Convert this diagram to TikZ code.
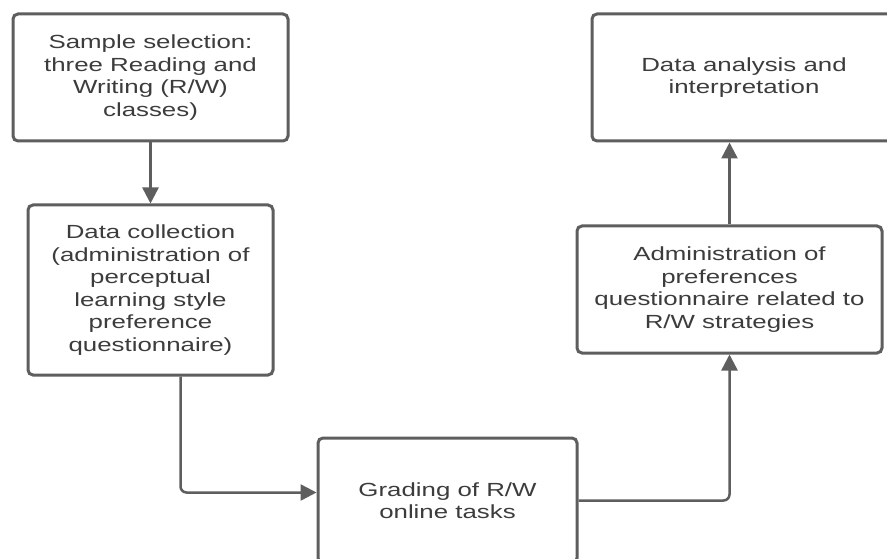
\documentclass[tikz,border=0pt]{standalone}
\usepackage{fontspec}
\setmainfont{Liberation Sans}[FakeStretch=1.36]
\usetikzlibrary{arrows.meta}
\definecolor{linegray}{HTML}{5E5E5E}
\definecolor{textgray}{HTML}{3C3C3C}

\begin{document}
\begin{tikzpicture} [x = 1pt, y = -1pt,
     box/.style = {draw=linegray, line width=3pt, rounded corners=5pt, fill=white, align=center, text=textgray, font=\fontsize{19}{22.5}\selectfont, inner sep=0pt},
     link/.style = {draw=linegray, line width=2.5pt, rounded corners=6pt, -{Triangle[length=16pt, width=16pt]}}]
     % 枠
     \clip (0,0) rectangle (887,559);
     \useasboundingbox (0,0) rectangle (887,559);
     \fill [white] (0,0) rectangle (887,559);

     % 箱
     \node [box, minimum width=275pt, minimum height=127pt] (sample) at (150.5,77.5) {Sample selection:\\three Reading and\\Writing (R/W)\\classes)};
     \node [box, minimum width=245pt, minimum height=170pt] (collect) at (150.5,290) {Data collection\\(administration of\\perceptual\\learning style\\preference\\questionnaire)};
     \node [box, minimum width=259pt, minimum height=125pt] (grading) at (447.5,500.5) {Grading of R/W\\online tasks};
     \node [box, minimum width=305pt, minimum height=127pt] (admin) at (729.5,289.5) {Administration of\\preferences\\questionnaire related to\\R/W strategies};
     \node [box, minimum width=304pt, minimum height=127pt] (analysis) at (744,77.5) {Data analysis and\\interpretation};

     % 矢印
     \draw [link] (sample.south) -- (collect.north);
     \draw [link] ([xshift=30pt]collect.south) |- ([yshift=8pt]grading.west);
     \draw [link] (grading.east) -| (admin.south);
     \draw [link] (admin.north) -- (admin.north |- analysis.south);
    \end{tikzpicture}
\end{document}
